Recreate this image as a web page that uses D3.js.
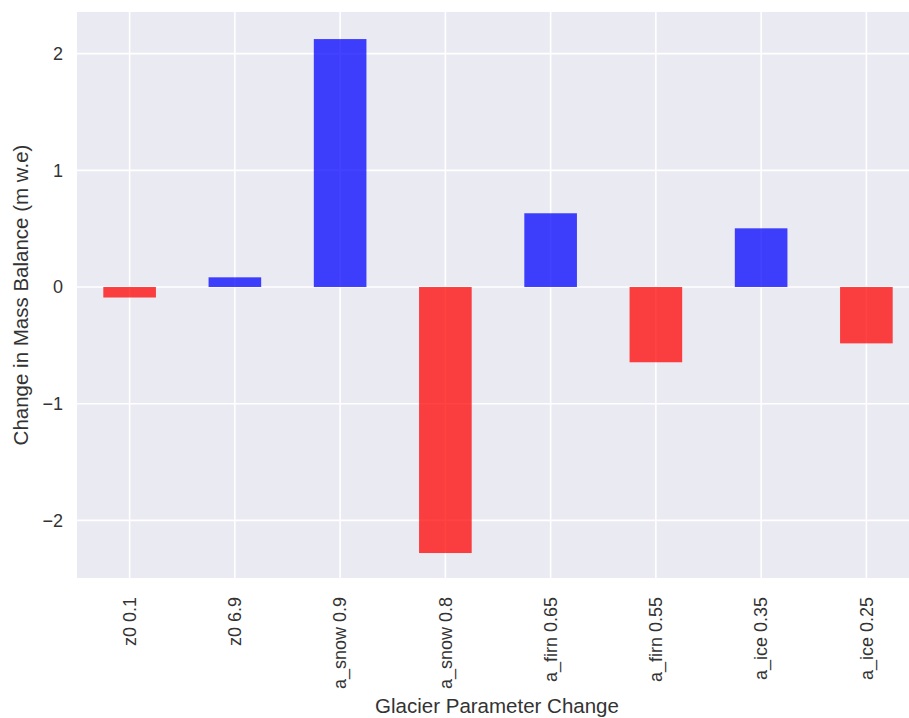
<!DOCTYPE html>
<html>
<head>
<meta charset="utf-8">
<script src="https://cdn.jsdelivr.net/npm/d3@7"></script>
<style>
  body { margin: 0; background: #fff; }
  svg { display: block; font-family: "Liberation Sans", Arial, sans-serif; }
</style>
</head>
<body>
<script>
// parameter runs and their change in mass balance
var categories = ['z0 0.1', 'z0 6.9', 'a_snow 0.9', 'a_snow 0.8', 'a_firn 0.65', 'a_firn 0.55', 'a_ice 0.35', 'a_ice 0.25'];
var values = [-0.09, 0.083, 2.125, -2.28, 0.632, -0.645, 0.503, -0.483];
var yTicks = [-2, -1, 0, 1, 2];

var W = 909, H = 718;
var m = { left: 77, right: 919, top: 12, bottom: 578 };

var svg = d3.select('body').append('svg')
  .attr('width', W)
  .attr('height', H);

var x = d3.scaleBand()
  .domain(categories)
  .range([m.left, m.right])
  .paddingInner(0.5)
  .paddingOuter(0.25);

var y = d3.scaleLinear()
  .domain([-2.494, 2.357])
  .range([m.bottom, m.top]);

svg.append('rect')
  .attr('x', m.left).attr('y', m.top)
  .attr('width', m.right - m.left).attr('height', m.bottom - m.top)
  .attr('fill', '#eaeaf2');

// grid
svg.append('g').selectAll('line')
  .data(yTicks).enter().append('line')
  .attr('x1', m.left).attr('x2', m.right)
  .attr('y1', function(d) { return y(d); })
  .attr('y2', function(d) { return y(d); })
  .attr('stroke', '#fff').attr('stroke-width', 1.6);

svg.append('g').selectAll('line')
  .data(categories).enter().append('line')
  .attr('y1', m.top).attr('y2', m.bottom)
  .attr('x1', function(d) { return x(d) + x.bandwidth() / 2; })
  .attr('x2', function(d) { return x(d) + x.bandwidth() / 2; })
  .attr('stroke', '#fff').attr('stroke-width', 1.6);

// bars
svg.append('g').selectAll('rect')
  .data(values).enter().append('rect')
  .attr('x', function(d, i) { return x(categories[i]); })
  .attr('width', x.bandwidth())
  .attr('y', function(d) { return y(Math.max(0, d)); })
  .attr('height', function(d) { return Math.abs(y(d) - y(0)); })
  .attr('fill', function(d) { return d < 0 ? '#ff0000' : '#0000ff'; })
  .attr('fill-opacity', 0.74);

// axes
var yAxis = svg.append('g')
  .attr('transform', 'translate(' + m.left + ',0)')
  .call(d3.axisLeft(y).tickValues(yTicks).tickSize(0).tickPadding(14)
    .tickFormat(function(d) { return d < 0 ? '\u2212' + Math.abs(d) : d; }));
yAxis.select('.domain').remove();
yAxis.selectAll('text').attr('font-size', 18).attr('fill', '#333').attr('font-family', 'inherit');

var xAxis = svg.append('g')
  .attr('transform', 'translate(0,' + m.bottom + ')')
  .call(d3.axisBottom(x).tickSize(0));
xAxis.select('.domain').remove();
xAxis.selectAll('text')
  .attr('font-size', 18).attr('fill', '#333').attr('font-family', 'inherit')
  .attr('transform', 'rotate(-90)')
  .attr('x', -19).attr('y', 0).attr('dy', '0.35em')
  .style('text-anchor', 'end');

svg.append('text')
  .attr('x', 497).attr('y', 713)
  .attr('text-anchor', 'middle')
  .attr('font-size', 20.5).attr('fill', '#333')
  .text('Glacier Parameter Change');

svg.append('text')
  .attr('transform', 'translate(28,' + ((m.top + m.bottom) / 2) + ') rotate(-90)')
  .attr('text-anchor', 'middle')
  .attr('font-size', 20.5).attr('fill', '#333')
  .text('Change in Mass Balance (m w.e)');
</script>
</body>
</html>
